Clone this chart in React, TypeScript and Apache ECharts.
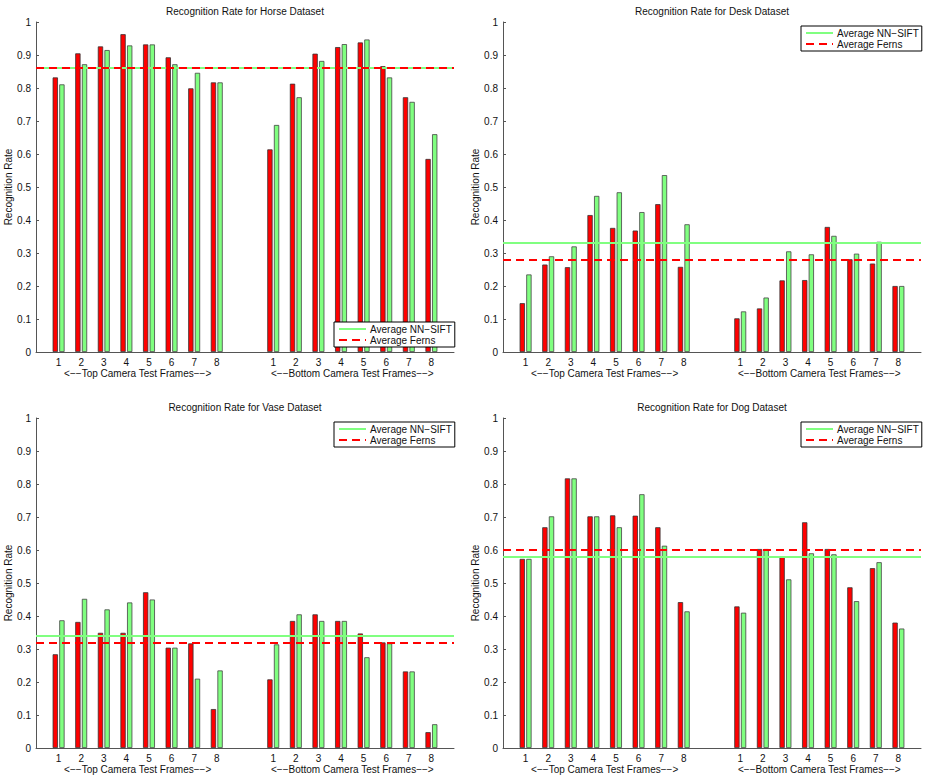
import React, { useEffect, useRef } from "react";
import * as echarts from "echarts";

const FRAMES = ["1", "2", "3", "4", "5", "6", "7", "8"];
const TOP_LABEL = "<\u2212\u2212Top Camera Test Frames\u2212\u2212>";
const BOTTOM_LABEL = "<\u2212\u2212Bottom Camera Test Frames\u2212\u2212>";
const Y_TICKS = ["0", "0.1", "0.2", "0.3", "0.4", "0.5", "0.6", "0.7", "0.8", "0.9", "1"];

const TITLES = [
  "Recognition Rate for Horse Dataset",
  "Recognition Rate for Desk Dataset",
  "Recognition Rate for Vase Dataset",
  "Recognition Rate for Dog Dataset",
];

// Horse
const horseFernsTop = [0.832, 0.905, 0.926, 0.963, 0.932, 0.893, 0.799, 0.817];
const horseSiftTop = [0.811, 0.872, 0.915, 0.929, 0.932, 0.872, 0.846, 0.817];
const horseFernsBottom = [0.614, 0.813, 0.904, 0.924, 0.938, 0.866, 0.772, 0.585];
const horseSiftBottom = [0.688, 0.772, 0.882, 0.933, 0.947, 0.832, 0.758, 0.66];
const horseAvg = { sift: 0.858, ferns: 0.862 };

// Desk
const deskFernsTop = [0.148, 0.265, 0.257, 0.415, 0.376, 0.368, 0.448, 0.258];
const deskSiftTop = [0.235, 0.29, 0.32, 0.473, 0.484, 0.424, 0.536, 0.387];
const deskFernsBottom = [0.102, 0.132, 0.217, 0.218, 0.379, 0.281, 0.268, 0.2];
const deskSiftBottom = [0.123, 0.165, 0.305, 0.296, 0.352, 0.298, 0.334, 0.2];
const deskAvg = { sift: 0.332, ferns: 0.279 };

// Vase
const vaseFernsTop = [0.284, 0.382, 0.349, 0.349, 0.472, 0.304, 0.317, 0.118];
const vaseSiftTop = [0.387, 0.452, 0.42, 0.441, 0.45, 0.304, 0.21, 0.235];
const vaseFernsBottom = [0.208, 0.385, 0.405, 0.385, 0.347, 0.32, 0.232, 0.048];
const vaseSiftBottom = [0.314, 0.405, 0.385, 0.385, 0.275, 0.317, 0.232, 0.072];
const vaseAvg = { sift: 0.344, ferns: 0.32 };

// Dog
const dogFernsTop = [0.573, 0.669, 0.817, 0.702, 0.705, 0.704, 0.669, 0.442];
const dogSiftTop = [0.573, 0.702, 0.817, 0.702, 0.669, 0.769, 0.613, 0.414];
const dogFernsBottom = [0.429, 0.603, 0.581, 0.684, 0.603, 0.487, 0.545, 0.38];
const dogSiftBottom = [0.41, 0.603, 0.511, 0.59, 0.587, 0.445, 0.563, 0.362];
const dogAvg = { sift: 0.578, ferns: 0.597 };

const PANELS = [
  { fT: horseFernsTop, sT: horseSiftTop, fB: horseFernsBottom, sB: horseSiftBottom, avg: horseAvg },
  { fT: deskFernsTop, sT: deskSiftTop, fB: deskFernsBottom, sB: deskSiftBottom, avg: deskAvg },
  { fT: vaseFernsTop, sT: vaseSiftTop, fB: vaseFernsBottom, sB: vaseSiftBottom, avg: vaseAvg },
  { fT: dogFernsTop, sT: dogSiftTop, fB: dogFernsBottom, sB: dogSiftBottom, avg: dogAvg },
];

// x axis: slots of half a unit from 0 to 18.5 (38 slots)
const N_SLOTS = 38;
const TOP_START = 2; // x = 1
const BOTTOM_START = 21; // x = 10.5
const TOP_MID = 9; // x = 4.5
const BOTTOM_MID = 28; // x = 14

function buildCategories(): string[] {
  const cats: string[] = [];
  for (let i = 0; i < N_SLOTS; i++) cats.push("s" + i);
  return cats;
}

function labelFor(idx: number): string {
  for (let k = 0; k < FRAMES.length; k++) {
    if (idx === TOP_START + 2 * k || idx === BOTTOM_START + 2 * k) return FRAMES[k];
  }
  if (idx === TOP_MID) return "\n" + TOP_LABEL;
  if (idx === BOTTOM_MID) return "\n" + BOTTOM_LABEL;
  return "";
}

function buildData(top: number[], bottom: number[]): (number | string)[] {
  const arr: (number | string)[] = new Array(N_SLOTS).fill("-");
  top.forEach((v, k) => (arr[TOP_START + 2 * k] = v));
  bottom.forEach((v, k) => (arr[BOTTOM_START + 2 * k] = v));
  return arr;
}

const FONT = "Liberation Sans, Arial, Helvetica, sans-serif";
const GRIDS = [
  { left: 36, top: 22, width: 418, height: 330 },
  { left: 503, top: 22, width: 418, height: 330 },
  { left: 36, top: 418, width: 418, height: 330 },
  { left: 503, top: 418, width: 418, height: 330 },
];
const LEGEND_POS = [
  { left: 334, top: 322 },
  { left: 801, top: 26 },
  { left: 334, top: 422 },
  { left: 801, top: 422 },
];

export default function App() {
  const ref = useRef<HTMLDivElement>(null);
  useEffect(() => {
    if (!ref.current) return;
    const chart = echarts.init(ref.current, undefined, { renderer: "svg" });
    const cats = buildCategories();
    const grid: any[] = [];
    const xAxis: any[] = [];
    const yAxis: any[] = [];
    const series: any[] = [];
    const legend: any[] = [];
    const graphic: any[] = [];

    PANELS.forEach((p, i) => {
      const g = GRIDS[i];
      grid.push({ ...g, containLabel: false });
      xAxis.push({
        type: "category",
        gridIndex: i,
        data: cats,
        boundaryGap: false,
        axisLine: { show: true, lineStyle: { color: "#555", width: 1 } },
        axisTick: { show: false },
        axisLabel: {
          interval: 0,
          formatter: (_v: string, idx: number) => labelFor(idx),
          color: "#111",
          fontSize: 10,
          fontFamily: FONT,
          margin: 5,
          lineHeight: 11,
        },
        splitLine: { show: false },
      });
      yAxis.push({
        type: "value",
        gridIndex: i,
        min: 0,
        max: 1,
        interval: 0.1,
        axisLine: { show: true, lineStyle: { color: "#555", width: 1 } },
        axisTick: { show: true, inside: true, length: 3, lineStyle: { color: "#555" } },
        axisLabel: {
          color: "#111",
          fontSize: 10,
          fontFamily: FONT,
          margin: 5,
          formatter: (v: number) => Y_TICKS[Math.round(v * 10)],
        },
        splitLine: { show: false },
        name: "Recognition Rate",
        nameLocation: "middle",
        nameGap: 16,
        nameTextStyle: { color: "#111", fontSize: 10, fontFamily: FONT },
      });
      const barCommon = {
        type: "bar",
        xAxisIndex: i,
        yAxisIndex: i,
        barWidth: 5.3,
        barGap: "25%",
        z: 2,
      };
      series.push({
        ...barCommon,
        name: "Ferns",
        data: buildData(p.fT, p.fB),
        itemStyle: { color: "#ff0000", borderColor: "#333", borderWidth: 0.8 },
      });
      series.push({
        ...barCommon,
        name: "NN\u2212SIFT",
        data: buildData(p.sT, p.sB),
        itemStyle: { color: "#80ff80", borderColor: "#444", borderWidth: 0.8 },
      });
      series.push({
        type: "line",
        name: "Average NN\u2212SIFT",
        xAxisIndex: i,
        yAxisIndex: i,
        data: [],
        symbol: "none",
        color: "#80ff80",
        lineStyle: { color: "#80ff80", width: 2, type: "solid" },
        z: 5,
        markLine: {
          silent: true,
          symbol: ["none", "none"],
          label: { show: false },
          lineStyle: { color: "#80ff80", width: 2, type: "solid" },
          data: [{ yAxis: p.avg.sift }],
          z: 5,
        },
      });
      series.push({
        type: "line",
        name: "Average Ferns",
        xAxisIndex: i,
        yAxisIndex: i,
        data: [],
        symbol: "none",
        color: "#ff0000",
        lineStyle: { color: "#ff0000", width: 2, type: [8, 5] },
        z: 6,
        markLine: {
          silent: true,
          symbol: ["none", "none"],
          label: { show: false },
          lineStyle: { color: "#ff0000", width: 2, type: [8, 5] },
          data: [{ yAxis: p.avg.ferns }],
          z: 6,
        },
      });
      legend.push({
        ...LEGEND_POS[i],
        orient: "vertical",
        data: ["Average NN\u2212SIFT", "Average Ferns"],
        backgroundColor: "#fff",
        borderColor: "#000",
        borderWidth: 1,
        borderRadius: 0,
        padding: [2, 3, 2, 4],
        itemGap: 1,
        itemWidth: 27,
        itemHeight: 10,
        selectedMode: false,
        itemStyle: { opacity: 0, borderWidth: 0 },
        textStyle: { color: "#111", fontSize: 10, fontFamily: FONT, padding: [0, 0, 0, -1] },
        z: 10,
      });
      graphic.push({
        type: "text",
        x: g.left + g.width / 2,
        y: g.top - 11,
        style: {
          text: TITLES[i],
          fill: "#111",
          font: "10px " + FONT,
          textAlign: "center",
          textVerticalAlign: "middle",
        },
      });
    });

    chart.setOption({
      animation: false,
      backgroundColor: "#fff",
      grid,
      xAxis,
      yAxis,
      series,
      legend,
      graphic,
    });
    return () => chart.dispose();
  }, []);
  return (
    <div
      ref={ref}
      style={{ position: "absolute", left: 0, top: 0, width: 931, height: 778 }}
    />
  );
}
